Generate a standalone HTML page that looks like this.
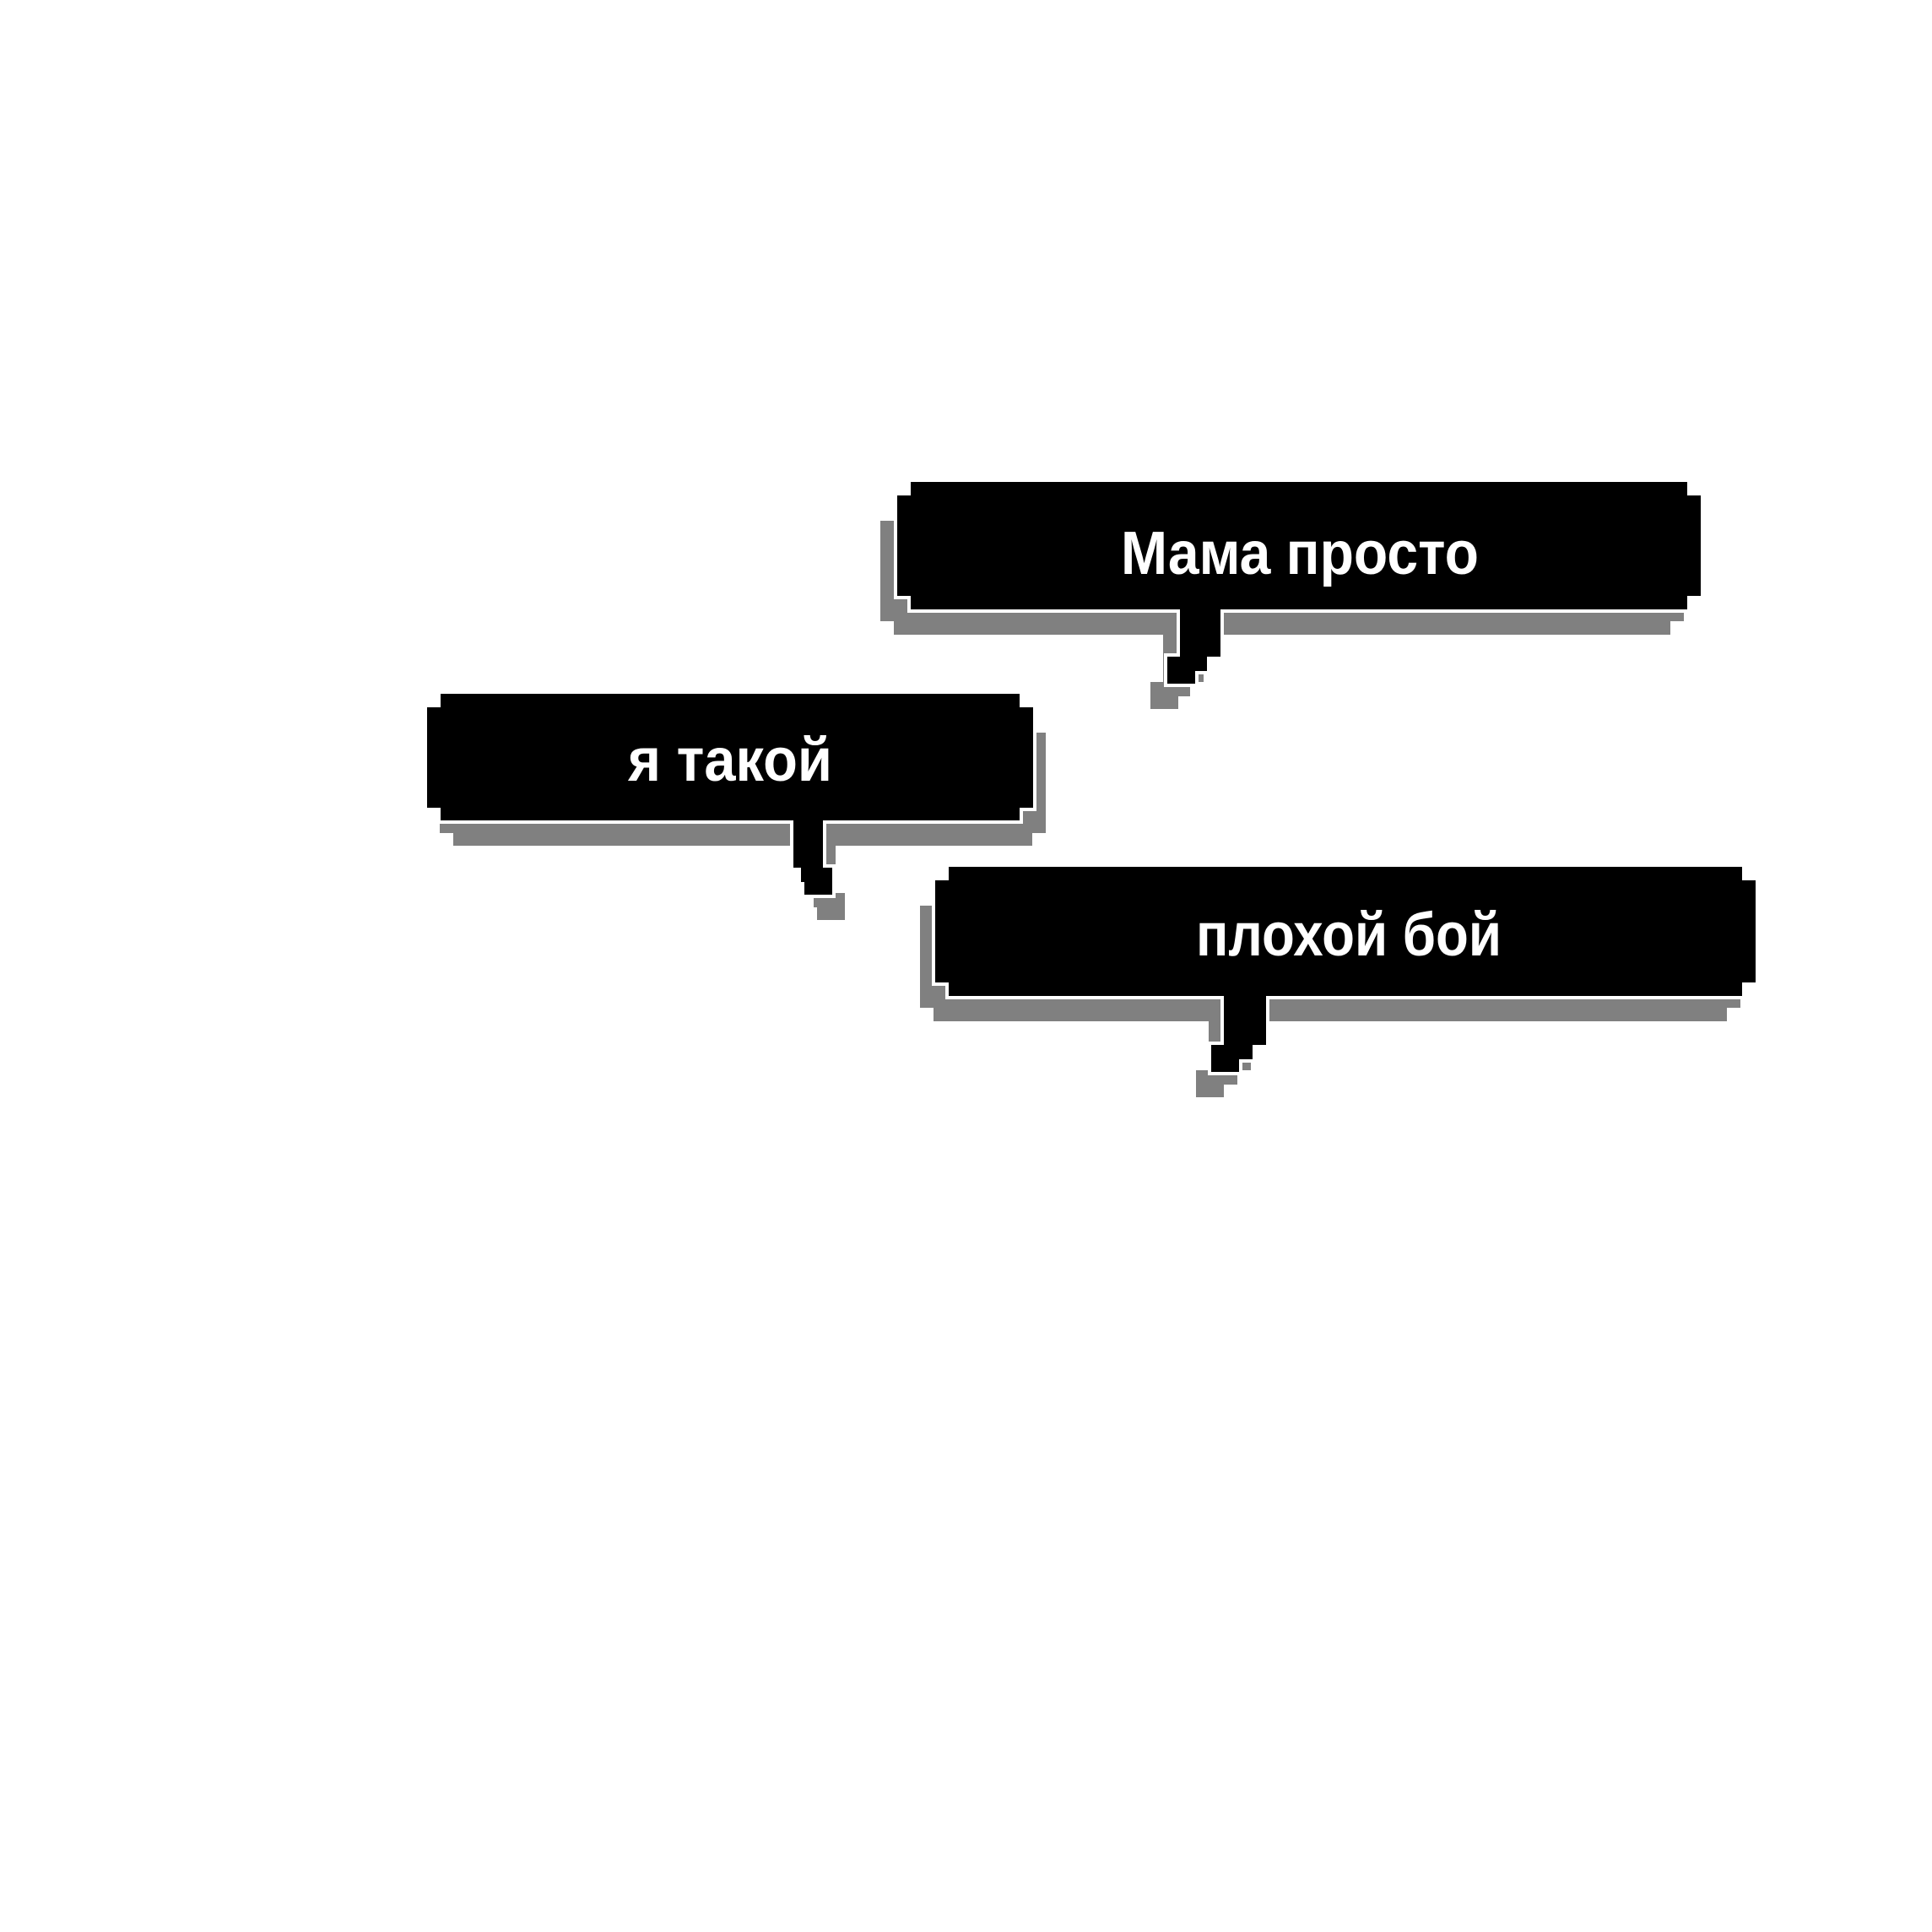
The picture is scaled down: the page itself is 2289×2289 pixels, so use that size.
<!DOCTYPE html>
<html><head><meta charset="utf-8"><style>
html,body{margin:0;padding:0;background:#fff;}
svg{display:block;}
text{font-family:"Liberation Sans","DejaVu Sans",sans-serif;font-weight:bold;fill:#fff;}
</style></head><body>
<svg width="2289" height="2289" viewBox="0 0 2289 2289" xmlns="http://www.w3.org/2000/svg">
<rect width="2289" height="2289" fill="#fff"/>
<defs>
<polygon id="b1" points="1079,571 1999,571 1999,587 2015,587 2015,706 1999,706 1999,722 1446,722 1446,778 1430,778 1430,795 1416,795 1416,810 1383,810 1383,778 1398,778 1398,722 1079,722 1079,706 1063,706 1063,587 1079,587"/>
<polygon id="b2" points="522,822 1208,822 1208,838 1224,838 1224,957 1208,957 1208,972 975,972 975,1028 986,1028 986,1060 953,1060 953,1045 949,1045 949,1028 940,1028 940,972 522,972 522,957 506,957 506,838 522,838"/>
<polygon id="b3" points="1124,1027 2064,1027 2064,1043 2080,1043 2080,1164 2064,1164 2064,1180 1500,1180 1500,1238 1484,1238 1484,1255 1468,1255 1468,1270 1435,1270 1435,1238 1450,1238 1450,1180 1124,1180 1124,1164 1108,1164 1108,1043 1124,1043"/>
</defs>
<use href="#b1" transform="translate(-20,30)" fill="#808080"/>
<use href="#b1" fill="#000" stroke="#fff" stroke-width="8"/>
<use href="#b1" fill="#000"/>
<text x="1540" y="680" font-size="72" text-anchor="middle" textLength="424" lengthAdjust="spacingAndGlyphs">Мама просто</text>
<use href="#b2" transform="translate(15,30)" fill="#808080"/>
<use href="#b2" fill="#000" stroke="#fff" stroke-width="8"/>
<use href="#b2" fill="#000"/>
<text x="865" y="925" font-size="72" text-anchor="middle" textLength="242" lengthAdjust="spacingAndGlyphs">я такой</text>
<use href="#b3" transform="translate(-18,30)" fill="#808080"/>
<use href="#b3" fill="#000" stroke="#fff" stroke-width="8"/>
<use href="#b3" fill="#000"/>
<text x="1598" y="1132" font-size="72" text-anchor="middle" textLength="362" lengthAdjust="spacingAndGlyphs">плохой бой</text>
</svg>
</body></html>
